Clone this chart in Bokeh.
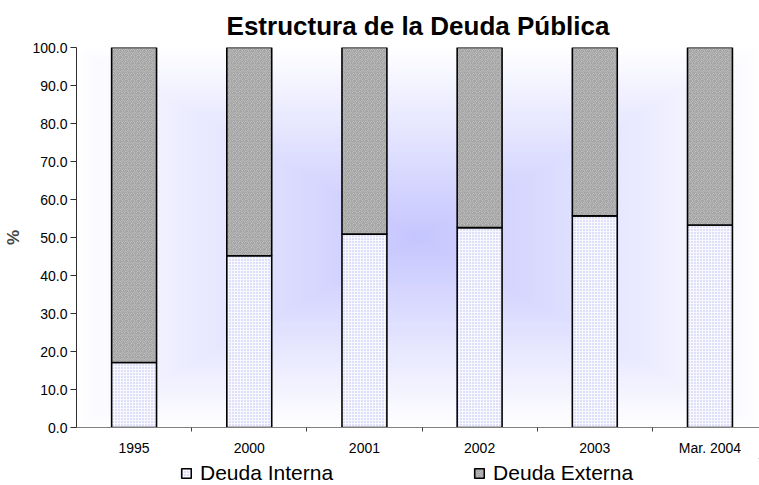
import numpy as np
from bokeh.plotting import figure
from bokeh.layouts import column
from bokeh.models import (ColumnDataSource, FixedTicker, Range1d, Legend, LegendItem,
                          NumeralTickFormatter)
from bokeh.embed import file_html
from bokeh.resources import INLINE

# ---- data ----
categories = ["1995", "2000", "2001", "2002", "2003", "Mar. 2004"]
deuda_interna = [17.1, 45.2, 50.9, 52.6, 55.7, 53.3]
deuda_externa = [82.9, 54.8, 49.1, 47.4, 44.3, 46.7]
y_ticks = [0, 10, 20, 30, 40, 50, 60, 70, 80, 90, 100]
series_names = ["Deuda Interna", "Deuda Externa"]

xs = list(range(len(categories)))
tops_int = deuda_interna
tops_ext = [a + b for a, b in zip(deuda_interna, deuda_externa)]

source = ColumnDataSource(dict(x=xs, cat=categories, interna=deuda_interna,
                               top_int=tops_int, top_ext=tops_ext))

X_START, X_END = -0.5, 5.43

INT_STYLE = dict(fill_color="#f8f8ff", hatch_pattern="dot", hatch_color="#b8b8f0",
                 hatch_scale=3, hatch_weight=1, line_color="black", line_width=1.6)
EXT_STYLE = dict(fill_color="#d0d0d0", hatch_pattern="spiral", hatch_color="#8a8a8a",
                 hatch_scale=6, hatch_weight=1, line_color="black", line_width=1.6)

p = figure(width=759, height=458,
           min_border_left=76, min_border_right=0, min_border_top=47, min_border_bottom=31,
           x_range=Range1d(X_START, X_END), y_range=Range1d(0, 100),
           output_backend="svg", toolbar_location=None,
           title="Estructura de la Deuda Pública")

# background: rectangular "from centre" gradient (style only)
nx, ny = 300, 200
u = np.linspace(-1, 1, nx)[None, :]
v = np.linspace(-1, 1, ny)[:, None]
t = np.clip(np.maximum(np.abs(u), np.abs(v)), 0, 1)
c0 = np.array([198, 198, 255.0])
c1 = np.array([255, 255, 255.0])
rgb = c0[None, None, :] * (1 - t[..., None]) + c1[None, None, :] * t[..., None]
img = np.empty((ny, nx), dtype=np.uint32)
view = img.view(dtype=np.uint8).reshape((ny, nx, 4))
view[..., 0] = rgb[..., 0].astype(np.uint8)
view[..., 1] = rgb[..., 1].astype(np.uint8)
view[..., 2] = rgb[..., 2].astype(np.uint8)
view[..., 3] = 255
p.image_rgba(image=[img], x=X_START, y=0, dw=X_END - X_START, dh=100)

bw = 0.39
r_int = p.vbar(x="x", bottom=0, top="top_int", width=bw, source=source, **INT_STYLE)
r_ext = p.vbar(x="x", bottom="top_int", top="top_ext", width=bw, source=source, **EXT_STYLE)

# title
p.title.text_font = "Liberation Sans"
p.title.text_font_size = "26px"
p.title.text_font_style = "bold"
p.title.align = "center"
p.title.offset = 4
p.title.standoff = 14
p.title.text_color = "black"

p.outline_line_color = None
p.grid.visible = False
p.background_fill_color = "white"
p.border_fill_color = "white"

# y axis
ya = p.yaxis[0]
ya.ticker = FixedTicker(ticks=y_ticks)
ya.formatter = NumeralTickFormatter(format="0.0")
ya.axis_label = "%"
ya.axis_label_text_font = "Liberation Sans"
ya.axis_label_text_font_size = "17px"
ya.axis_label_text_font_style = "bold"
ya.axis_label_standoff = 6
ya.major_label_text_font = "Liberation Sans"
ya.major_label_text_font_size = "14px"
ya.major_label_text_color = "black"
ya.major_label_standoff = 3
ya.major_tick_out = 6
ya.major_tick_in = 0
ya.minor_tick_out = 0
ya.minor_tick_in = 0
ya.axis_line_color = "#303030"
ya.major_tick_line_color = "#303030"

# x axis
xa = p.xaxis[0]
xa.ticker = FixedTicker(ticks=xs, minor_ticks=[i + 0.5 for i in xs[:-1]])
xa.major_label_overrides = {i: c for i, c in zip(xs, categories)}
xa.major_label_text_font = "Liberation Sans"
xa.major_label_text_font_size = "14px"
xa.major_label_text_color = "black"
xa.major_label_standoff = 8
xa.major_tick_out = 0
xa.major_tick_in = 0
xa.minor_tick_out = 4
xa.minor_tick_in = 0
xa.axis_line_color = "#808080"
xa.minor_tick_line_color = "#404040"

# legend strip below the chart (legend swatches taken from off-screen renderers)
lf = figure(width=759, height=27, x_range=Range1d(0, 1), y_range=Range1d(0, 1),
            min_border_left=0, min_border_right=0, min_border_top=0, min_border_bottom=0,
            output_backend="svg", toolbar_location=None)
lf.axis.visible = False
lf.grid.visible = False
lf.outline_line_color = None
lf.background_fill_color = "white"
lf.border_fill_color = "white"
l_int = lf.vbar(x=[5], bottom=[5], top=[6], width=0.1, **INT_STYLE)
l_ext = lf.vbar(x=[5], bottom=[5], top=[6], width=0.1, **EXT_STYLE)
legend = Legend(items=[LegendItem(label=series_names[0], renderers=[l_int]),
                       LegendItem(label=series_names[1], renderers=[l_ext])],
                orientation="horizontal", location=(104, 0),
                label_text_font="Liberation Sans", label_text_font_size="21px",
                label_text_color="black",
                glyph_width=12, glyph_height=12, label_standoff=8, spacing=140,
                padding=0, margin=0, border_line_color=None,
                background_fill_alpha=0)
lf.add_layout(legend, "center")

layout = column(p, lf, spacing=0)
open("out.html", "w").write(file_html(layout, INLINE))
